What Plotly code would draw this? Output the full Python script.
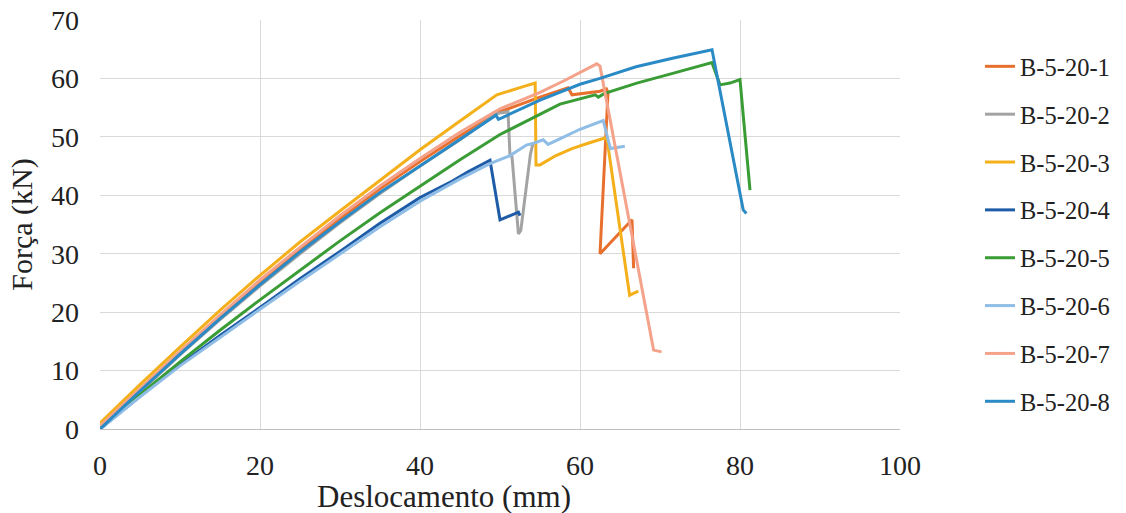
import plotly.graph_objects as go

names = ["B-5-20-1", "B-5-20-2", "B-5-20-3", "B-5-20-4",
         "B-5-20-5", "B-5-20-6", "B-5-20-7", "B-5-20-8"]
colors = ["#E8702E", "#A3A3A3", "#F4B01A", "#1F5CA8",
          "#3A9C35", "#8FBDE6", "#F4A28A", "#2A8AC6"]

# B-5-20-1
x1 = [0, 5, 10, 15, 20, 25, 30, 35, 40, 45, 50, 55, 58.5, 59.0, 60.0, 62.5, 63.3, 63.5, 62.5, 66.5, 66.7]
y1 = [0.3, 6.7, 13.0, 19.1, 25.0, 30.6, 36.0, 41.1, 45.8, 50.2, 54.3, 56.8, 58.4, 57.2, 57.4, 57.8, 58.2, 57.6, 30.0, 35.8, 27.5]
# B-5-20-2
x2 = [0, 5, 10, 15, 20, 25, 30, 35, 40, 45, 49.6, 51.0, 51.25, 51.5, 52.3, 52.6, 53.8, 54.1]
y2 = [0, 6.4, 12.7, 18.7, 24.5, 30.0, 35.3, 40.3, 45.0, 49.5, 54.0, 54.3, 46.8, 46.6, 33.4, 34.0, 47.0, 48.8]
# B-5-20-3
x3 = [0, 5, 10, 15, 20, 25, 30, 35, 40, 45, 49.6, 52.9, 54.4, 54.5, 55.0, 57.0, 59.0, 61.0, 63.1, 63.4, 66.2, 67.3]
y3 = [1.0, 7.6, 14.0, 20.3, 26.3, 32.0, 37.3, 42.6, 47.8, 52.7, 57.2, 58.6, 59.2, 45.2, 45.2, 46.8, 48.0, 48.9, 49.8, 49.4, 22.9, 23.6]
# B-5-20-4
x4 = [0, 5, 10, 15, 20, 25, 30, 35, 40, 44, 46, 48.75, 50.0, 52.3, 52.5]
y4 = [0, 5.6, 11.0, 16.0, 20.8, 25.7, 30.4, 35.2, 39.6, 42.4, 44.0, 46.0, 35.8, 37.1, 36.5]
# B-5-20-5
x5 = [0, 5, 10, 15, 20, 25, 30, 35, 40, 45, 50, 55, 57.5, 61.9, 62.3, 63.0, 67.1, 71.7, 75.0, 76.5, 77.5, 78.75, 80.0, 81.25]
y5 = [0, 5.9, 11.5, 16.9, 22.1, 27.2, 32.2, 37.0, 41.6, 46.1, 50.4, 53.8, 55.6, 57.2, 56.8, 57.4, 59.2, 60.9, 62.2, 62.7, 58.9, 59.2, 59.8, 40.9]
# B-5-20-6
x6 = [0, 5, 10, 15, 20, 25, 30, 35, 40, 45, 48.75, 51.25, 53.3, 54.2, 55.4, 56.0, 58.0, 60.0, 62.9, 63.8, 65.6]
y6 = [0, 5.5, 10.8, 15.7, 20.5, 25.3, 30.0, 34.6, 39.0, 42.8, 45.4, 46.8, 48.6, 48.9, 49.5, 48.7, 50.0, 51.3, 52.8, 48.0, 48.4]
# B-5-20-7
x7 = [0, 5, 10, 15, 20, 25, 30, 35, 40, 45, 50, 55, 58, 62.1, 62.5, 69.2, 70.2]
y7 = [0.5, 6.9, 13.3, 19.5, 25.5, 31.1, 36.5, 41.6, 46.3, 50.8, 54.8, 57.6, 59.6, 62.5, 62.1, 13.5, 13.2]
# B-5-20-8
x8 = [0, 5, 10, 15, 20, 25, 30, 35, 40, 45, 49.5, 49.8, 50.3, 55, 60, 62.5, 67, 71.7, 75, 76.5, 80.4, 80.8]
y8 = [0, 6.5, 12.8, 18.9, 24.7, 30.3, 35.5, 40.5, 45.0, 49.6, 53.7, 53.0, 53.3, 56.3, 59.0, 60.0, 62.0, 63.5, 64.5, 64.9, 37.5, 36.9]

xs = [x1, x2, x3, x4, x5, x6, x7, x8]
ys = [y1, y2, y3, y4, y5, y6, y7, y8]

x_ticks = [0, 20, 40, 60, 80, 100]
y_ticks = [0, 10, 20, 30, 40, 50, 60, 70]

fig = go.Figure()
for n, c, xv, yv in zip(names, colors, xs, ys):
    fig.add_trace(go.Scatter(x=xv, y=yv, mode="lines", name=n, legendgroup=n,
                             line=dict(color=c, width=3)))

serif = "Liberation Serif"
fig.update_layout(
    width=1126, height=513,
    margin=dict(l=100, r=226, t=20, b=84, autoexpand=False),
    paper_bgcolor="white", plot_bgcolor="white",
    font=dict(family=serif, color="#222222"),
    showlegend=True,
    legend=dict(x=1.10, xanchor="left", y=0.477, yanchor="middle",
                traceorder="grouped", tracegroupgap=13,
                font=dict(family=serif, size=24.5, color="#222222"),
                bgcolor="rgba(0,0,0,0)"),
    xaxis=dict(range=[0, 100], tickvals=x_ticks, showgrid=True, gridcolor="#D9D9D9",
               gridwidth=1, zeroline=False, showline=True, linecolor="#BFBFBF",
               tickfont=dict(family=serif, size=28), ticks="", ticklabelstandoff=11,
               ticklabeloverflow="allow", automargin=False),
    yaxis=dict(range=[0, 70], tickvals=y_ticks, showgrid=True, gridcolor="#D9D9D9",
               gridwidth=1, zeroline=False, showline=False,
               tickfont=dict(family=serif, size=28), ticks="", ticklabelstandoff=20,
               ticklabeloverflow="allow", automargin=False,
               title=dict(text="Força (kN)", font=dict(family=serif, size=30), standoff=9)),
    annotations=[dict(text="Deslocamento (mm)", xref="paper", yref="paper",
                      x=0.43, y=-0.166, xanchor="center", yanchor="middle",
                      showarrow=False, font=dict(family=serif, size=31, color="#222222"))],
)

fig.write_html("out.html", config={"displayModeBar": False},
               post_script="document.body.style.margin='0';document.body.style.overflow='hidden';")
